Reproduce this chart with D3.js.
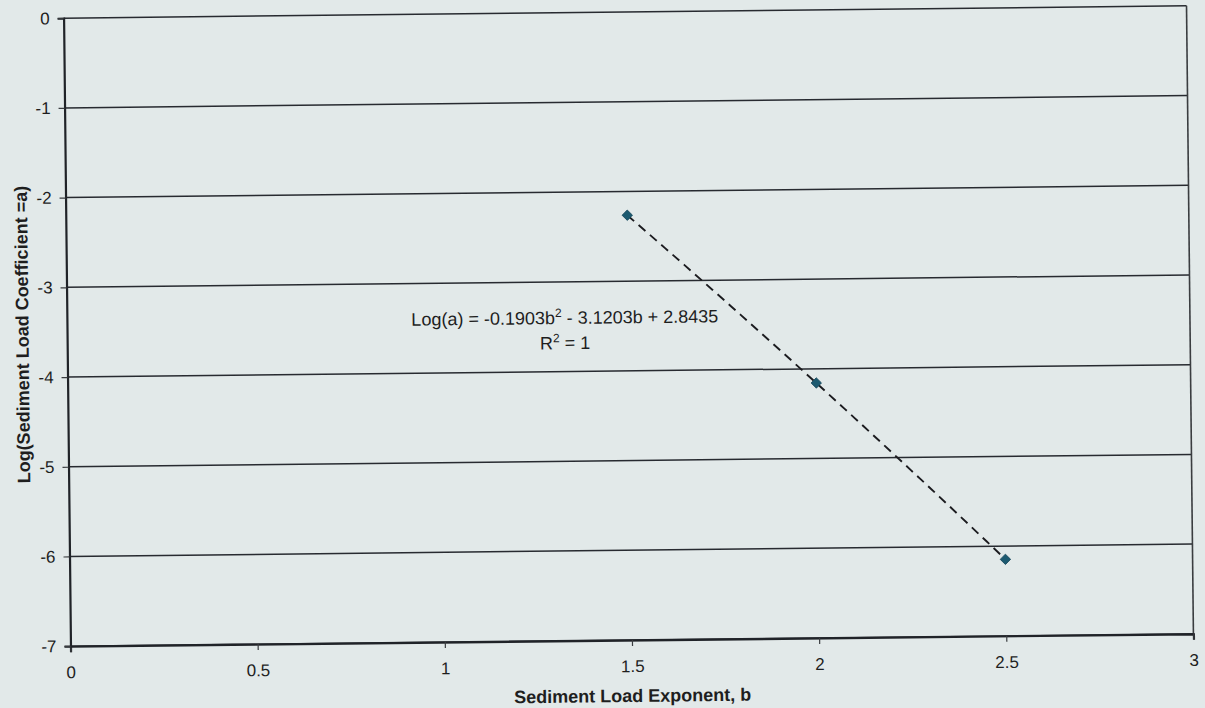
<!DOCTYPE html>
<html>
<head>
<meta charset="utf-8">
<script src="https://cdn.jsdelivr.net/npm/d3@7"></script>
<style>
  html, body { margin: 0; padding: 0; background: #e2e9e9; }
  svg { display: block; }
  text { font-family: "Liberation Sans", Arial, sans-serif; fill: #1e1e1e; }
</style>
</head>
<body>
<svg id="chart" width="1205" height="708"></svg>
<script>
// Sediment load exponent b and log of the coefficient a
const exponents = [1.5, 2.0, 2.5];
const logCoefficients = [-2.265, -4.158, -6.147];

// Second-order polynomial trendline: c2*b^2 + c1*b + c0
const trendCoefficients = [-0.1903, -3.1203, 2.8435];
const trendLabel = ["Log(a) = -0.1903b", "2", " - 3.1203b + 2.8435"];
const rSquaredLabel = ["R", "2", " = 1"];

const xTicks = [0, 0.5, 1, 1.5, 2, 2.5, 3];
const yTicks = [0, -1, -2, -3, -4, -5, -6, -7];

const xTitle = "Sediment Load Exponent, b";
const yTitle = "Log(Sediment Load Coefficient =a)";

const plot = { left: 67, right: 1190, top: 12, bottom: 640 };

const svg = d3.select("#chart");
// The page sits slightly tilted
const root = svg.append("g")
  .attr("transform", "rotate(-0.63, 628.5, 326)");

const x = d3.scaleLinear().domain([0, 3]).range([plot.left, plot.right]);
const y = d3.scaleLinear().domain([-7, 0]).range([plot.bottom, plot.top]);

// Horizontal gridlines
root.append("g")
  .selectAll("line")
  .data(yTicks)
  .join("line")
  .attr("x1", plot.left).attr("x2", plot.right)
  .attr("y1", d => y(d)).attr("y2", d => y(d))
  .attr("stroke", "#272a30")
  .attr("stroke-width", 1.5);

// Right frame edge
root.append("line")
  .attr("x1", plot.right).attr("x2", plot.right)
  .attr("y1", plot.top).attr("y2", plot.bottom)
  .attr("stroke", "#3a3d40").attr("stroke-width", 1.6);

// Axes
const xAxis = d3.axisBottom(x).tickValues(xTicks).tickSize(6).tickPadding(14)
  .tickFormat(d3.format("~g"));
const yAxis = d3.axisLeft(y).tickValues(yTicks).tickSize(6).tickPadding(8)
  .tickFormat(d => d3.format("~g")(d).replace("−", "-"));

const gx = root.append("g")
  .attr("transform", `translate(0,${plot.bottom})`)
  .call(xAxis);
const gy = root.append("g")
  .attr("transform", `translate(${plot.left},0)`)
  .call(yAxis);

[gx, gy].forEach(g => {
  g.select(".domain").attr("stroke", "#202328").attr("stroke-width", 2.2);
  g.selectAll(".tick line").attr("stroke", "#3a3d40").attr("stroke-width", 1.2);
  g.selectAll(".tick text")
    .attr("font-size", 17)
    .attr("font-family", "Liberation Sans, Arial, sans-serif")
    .attr("fill", "#1a1a1a");
});
gx.selectAll(".tick text").attr("dy", "0.71em");

// Trendline sampled from the polynomial
const bDomain = d3.extent(exponents);
const samples = d3.range(0, 41).map(i => bDomain[0] + (bDomain[1] - bDomain[0]) * i / 40);
const poly = b => trendCoefficients[0] * b * b + trendCoefficients[1] * b + trendCoefficients[2];

root.append("path")
  .datum(samples)
  .attr("fill", "none")
  .attr("stroke", "#1b1b1f")
  .attr("stroke-width", 1.9)
  .attr("stroke-dasharray", "9,6")
  .attr("d", d3.line().x(b => x(b)).y(b => y(poly(b))));

// Data markers (diamonds)
const diamond = d3.symbol().type(d3.symbolSquare).size(54);
root.append("g")
  .selectAll("path")
  .data(exponents.map((b, i) => ({ b, v: logCoefficients[i] })))
  .join("path")
  .attr("d", diamond)
  .attr("transform", d => `translate(${x(d.b)},${y(d.v)}) rotate(45)`)
  .attr("fill", "#1c5a70")
  .attr("stroke", "#16465a")
  .attr("stroke-width", 0.8);

// Trendline equation
function superLabel(parent, parts, cx, cy) {
  const t = parent.append("text")
    .attr("x", cx).attr("y", cy)
    .attr("text-anchor", "middle")
    .attr("font-size", 18);
  t.append("tspan").text(parts[0]);
  t.append("tspan").text(parts[1]).attr("font-size", 12).attr("dy", -7);
  t.append("tspan").text(parts[2]).attr("dy", 7);
  return t;
}
superLabel(root, trendLabel, x(1.33), y(-3.47));
superLabel(root, rSquaredLabel, x(1.33), y(-3.75));

// Axis titles
root.append("text")
  .attr("x", (plot.left + plot.right) / 2)
  .attr("y", 702)
  .attr("text-anchor", "middle")
  .attr("font-size", 18)
  .attr("font-weight", "bold")
  .text(xTitle);

root.append("text")
  .attr("transform", `translate(28.5,${(plot.top + plot.bottom) / 2 + 2}) rotate(-90)`)
  .attr("text-anchor", "middle")
  .attr("font-size", 18)
  .attr("font-weight", "bold")
  .text(yTitle);
</script>
</body>
</html>
